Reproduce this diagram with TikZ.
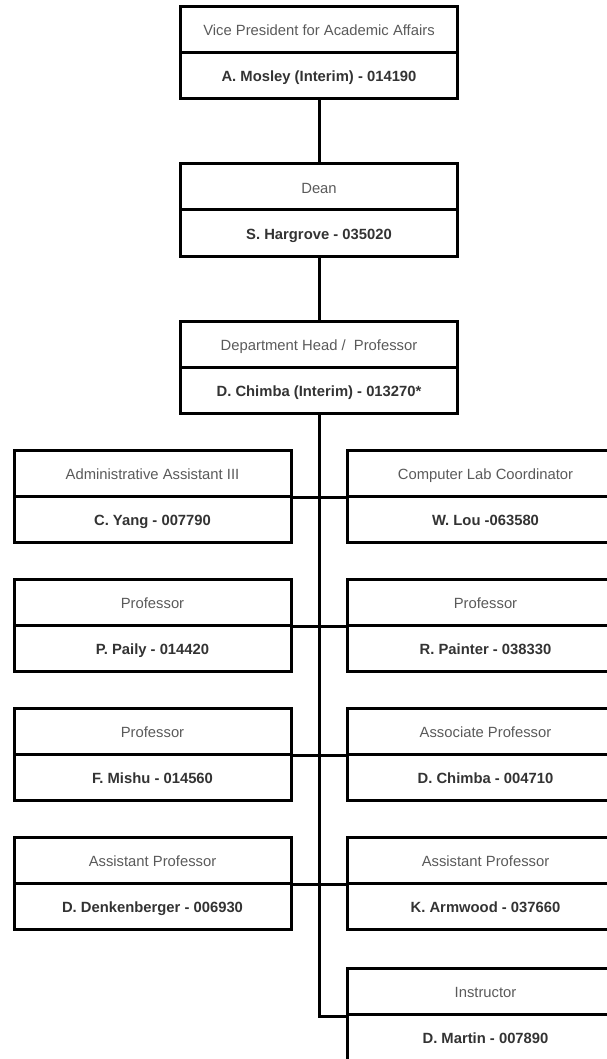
\documentclass[tikz,border=0pt]{standalone}
\usepackage{fontspec}
\setmainfont{Liberation Sans}
\usetikzlibrary{positioning}
\definecolor{titlegray}{HTML}{5A5A5A}
\definecolor{namegray}{HTML}{333333}

\begin{document}
\begin{tikzpicture}[x=1pt, y=-1pt, node distance=46pt and 333pt, on grid,
    half/.style={draw, line width=3pt, minimum width=277pt, minimum height=46pt,
      inner sep=0pt, text height=14.6pt, text depth=2.4pt,
      font=\fontsize{14.8}{17}\selectfont},
    role/.style={half, text=titlegray},
    person/.style={half, text=namegray, font=\fontsize{14.8}{17}\selectfont\bfseries},
    link/.style={line width=3pt}]
  \useasboundingbox (0,0) rectangle (607,1059);
  \clip (0,0) rectangle (607,1059);

  % top of the chain
  \node[role] (vpT) at (319,29.5) {Vice President for Academic Affairs};
  \node[person] (vpN) [below=of vpT] {A. Mosley (Interim) - 014190};
  \node[role] (deanT) at (319,187) {Dean};
  \node[person] (deanN) [below=of deanT] {S. Hargrove - 035020};
  \node[role] (headT) at (319,344.5) {Department Head /\ \ Professor};
  \node[person] (headN) [below=of headT] {D. Chimba (Interim) - 013270*};

  % staff rows
  \node[role] (yangT) at (152.5,473) {Administrative Assistant III};
  \node[person] (yangN) [below=of yangT] {C. Yang - 007790};
  \node[role] (louT) [right=of yangT] {Computer Lab Coordinator};
  \node[person] (louN) [below=of louT] {W. Lou -063580};

  \node[role] (pailyT) at (152.5,602) {Professor};
  \node[person] (pailyN) [below=of pailyT] {P. Paily - 014420};
  \node[role] (painterT) [right=of pailyT] {Professor};
  \node[person] (painterN) [below=of painterT] {R. Painter - 038330};

  \node[role] (mishuT) at (152.5,731) {Professor};
  \node[person] (mishuN) [below=of mishuT] {F. Mishu - 014560};
  \node[role] (chimbaT) [right=of mishuT] {Associate Professor};
  \node[person] (chimbaN) [below=of chimbaT] {D. Chimba - 004710};

  \node[role] (denkT) at (152.5,860) {Assistant Professor};
  \node[person] (denkN) [below=of denkT] {D. Denkenberger - 006930};
  \node[role] (armwoodT) [right=of denkT] {Assistant Professor};
  \node[person] (armwoodN) [below=of armwoodT] {K. Armwood - 037660};

  \node[role] (martinT) at (485.5,991.5) {Instructor};
  \node[person] (martinN) [below=of martinT] {D. Martin - 007890};

  % connectors
  \draw[link] (vpN.south) -- (deanT.north);
  \draw[link] (deanN.south) -- (headT.north);
  \draw[link] (headN.south) |- (martinT.south west);
  \draw[link] (yangT.south east) -- (louT.south west);
  \draw[link] (pailyT.south east) -- (painterT.south west);
  \draw[link] (mishuT.south east) -- (chimbaT.south west);
  \draw[link] (denkT.south east) -- (armwoodT.south west);
\end{tikzpicture}
\end{document}
